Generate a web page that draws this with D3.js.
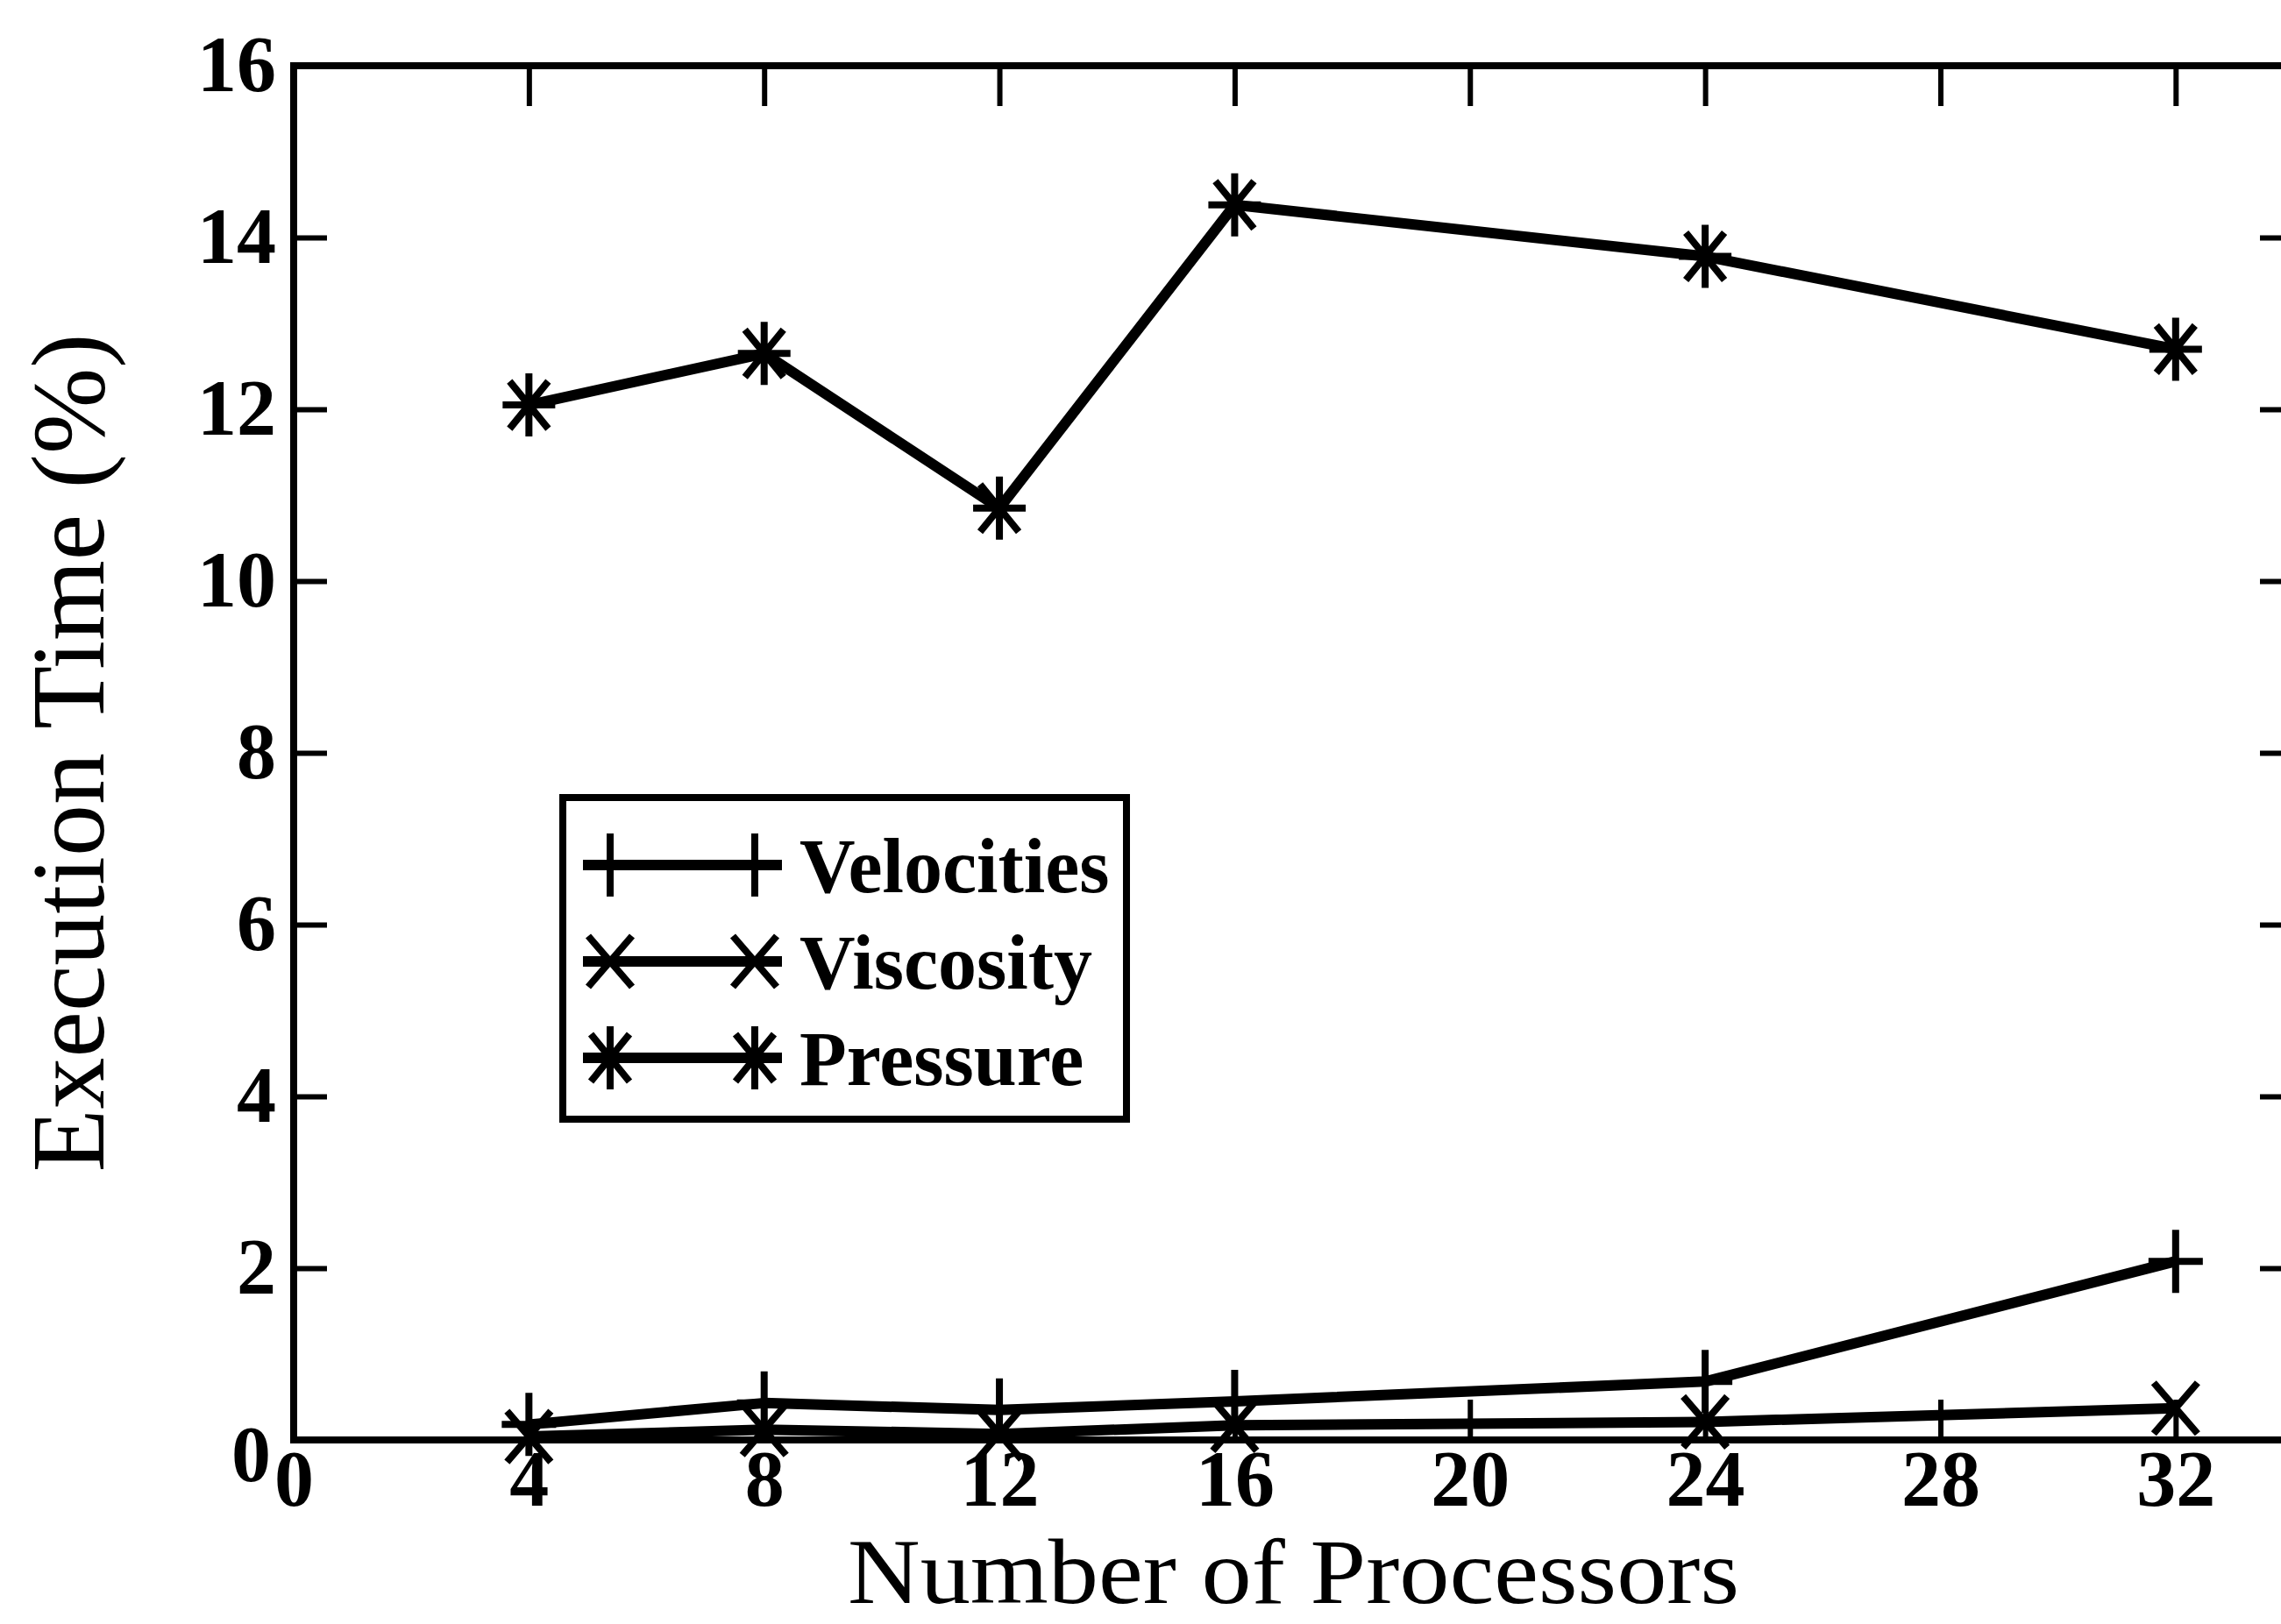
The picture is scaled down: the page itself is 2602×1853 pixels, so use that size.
<!DOCTYPE html>
<html>
<head>
<meta charset="utf-8">
<script src="https://cdn.jsdelivr.net/npm/d3@7"></script>
<style>
  html, body { margin: 0; padding: 0; background: #fff; overflow: hidden; }
  svg { display: block; }
  text { font-family: "Liberation Serif", "Times New Roman", serif; fill: #000; }
</style>
</head>
<body>
<svg id="chart" width="2602" height="1853"></svg>
<script>
// Number of processors on the x axis
const processors = [4, 8, 12, 16, 24, 32];

// Share of execution time (%) per phase
const velocities = [0.18, 0.43, 0.35, 0.45, 0.68, 2.08];
const viscosity  = [0.04, 0.12, 0.07, 0.17, 0.21, 0.37];
const pressure   = [12.05, 12.65, 10.85, 14.38, 13.78, 12.70];

const seriesNames = ["Velocities", "Viscosity", "Pressure"];
const seriesMarkers = ["plus", "cross", "star"];

// Axis ticks
const xTicks = [0, 4, 8, 12, 16, 20, 24, 28, 32];
const yTicks = [0, 2, 4, 6, 8, 10, 12, 14, 16];
const xDomain = [0, 34];
const yDomain = [0, 16];

const plot = { left: 335, right: 2616, top: 75, bottom: 1643 };

const svg = d3.select("#chart");
const x = d3.scaleLinear().domain(xDomain).range([plot.left, plot.right]);
const y = d3.scaleLinear().domain(yDomain).range([plot.bottom, plot.top]);

const axisStroke = 8;
const tickStroke = 6;
const tickFont = 90;

function styleAxis(g, showLabels) {
  g.select(".domain").remove();
  g.selectAll(".tick line").attr("stroke", "#000").attr("stroke-width", tickStroke);
  g.selectAll(".tick text")
    .style("font-family", '"Liberation Serif", serif')
    .style("font-size", tickFont + "px")
    .style("font-weight", "bold")
    .attr("fill", "#000");
  if (!showLabels) g.selectAll(".tick text").remove();
}

// Bottom axis with inward ticks
svg.append("g")
  .attr("transform", `translate(0,${plot.bottom})`)
  .call(d3.axisBottom(x).tickValues(xTicks).tickSize(-46).tickPadding(11).tickFormat(d3.format("d")))
  .call(g => styleAxis(g, true))
  .call(g => g.selectAll(".tick").filter(d => d === 0).select("line").remove());

// Top axis: ticks only
svg.append("g")
  .attr("transform", `translate(0,${plot.top})`)
  .call(d3.axisTop(x).tickValues(xTicks.filter(d => d > 0)).tickSize(-46))
  .call(g => styleAxis(g, false));

// Left axis with inward ticks
svg.append("g")
  .attr("transform", `translate(${plot.left},0)`)
  .call(d3.axisLeft(y).tickValues(yTicks).tickSize(-38).tickPadding(20).tickFormat(d3.format("d")))
  .call(g => styleAxis(g, true))
  .call(g => g.selectAll(".tick").filter(d => d === 0 || d === 16).select("line").remove())
  .call(g => g.selectAll(".tick").filter(d => d === 0).select("text").attr("dy", "0.52em").attr("x", -26));

// Right axis: ticks only
svg.append("g")
  .attr("transform", `translate(${plot.right},0)`)
  .call(d3.axisRight(y).tickValues(yTicks.filter(d => d > 0 && d < 16)).tickSize(-38))
  .call(g => styleAxis(g, false));

// Plot frame
svg.append("rect")
  .attr("x", x(xDomain[0])).attr("y", y(yDomain[1]))
  .attr("width", x(xDomain[1]) - x(xDomain[0]))
  .attr("height", y(yDomain[0]) - y(yDomain[1]))
  .attr("fill", "none").attr("stroke", "#000").attr("stroke-width", axisStroke);

// Axis titles
svg.append("text")
  .attr("transform", `translate(${(plot.left + plot.right) / 2},1829) scale(1.09,1)`)
  .attr("text-anchor", "middle")
  .style("font-size", "105px")
  .text("Number of Processors");

svg.append("text")
  .attr("transform", `translate(118,${(plot.top + plot.bottom) / 2}) rotate(-90)`)
  .attr("text-anchor", "middle")
  .style("font-size", "118px")
  .text("Execution Time (%)");

// Marker shapes (half width, half height)
function markerPath(type) {
  const p = d3.path();
  if (type === "plus") {
    p.moveTo(-31, 0); p.lineTo(31, 0);
    p.moveTo(0, -36); p.lineTo(0, 36);
  } else if (type === "cross") {
    p.moveTo(-25, -29); p.lineTo(25, 29);
    p.moveTo(-25, 29); p.lineTo(25, -29);
  } else {
    p.moveTo(-30, 0); p.lineTo(30, 0);
    p.moveTo(0, -36); p.lineTo(0, 36);
    p.moveTo(-22, -27); p.lineTo(22, 27);
    p.moveTo(-22, 27); p.lineTo(22, -27);
  }
  return p.toString();
}

const seriesValues = [velocities, viscosity, pressure];
const line = d3.line().x(d => x(d[0])).y(d => y(d[1]));

seriesValues.forEach((vals, i) => {
  const pts = processors.map((p, j) => [p, vals[j]]);
  const g = svg.append("g");
  g.append("path")
    .attr("d", line(pts))
    .attr("fill", "none")
    .attr("stroke", "#000")
    .attr("stroke-width", 12)
    .attr("stroke-linejoin", "round");
  g.selectAll("path.marker")
    .data(pts)
    .join("path")
    .attr("class", "marker")
    .attr("transform", d => `translate(${x(d[0])},${y(d[1])})`)
    .attr("d", markerPath(seriesMarkers[i]))
    .attr("fill", "none")
    .attr("stroke", "#000")
    .attr("stroke-width", 8);
});

// Legend
const legend = svg.append("g");
legend.append("rect")
  .attr("x", 642).attr("y", 910).attr("width", 643).attr("height", 367)
  .attr("fill", "#fff").attr("stroke", "#000").attr("stroke-width", 8);

seriesNames.forEach((name, i) => {
  const cy = 987 + i * 110;
  const row = legend.append("g");
  row.append("line")
    .attr("x1", 665).attr("x2", 892).attr("y1", cy).attr("y2", cy)
    .attr("stroke", "#000").attr("stroke-width", 12);
  [696, 861].forEach(mx => {
    row.append("path")
      .attr("transform", `translate(${mx},${cy})`)
      .attr("d", markerPath(seriesMarkers[i]))
      .attr("fill", "none").attr("stroke", "#000").attr("stroke-width", 8);
  });
  row.append("text")
    .attr("x", 912).attr("y", cy + 31)
    .style("font-size", "88px")
    .style("font-weight", "bold")
    .text(name);
});
</script>
</body>
</html>
